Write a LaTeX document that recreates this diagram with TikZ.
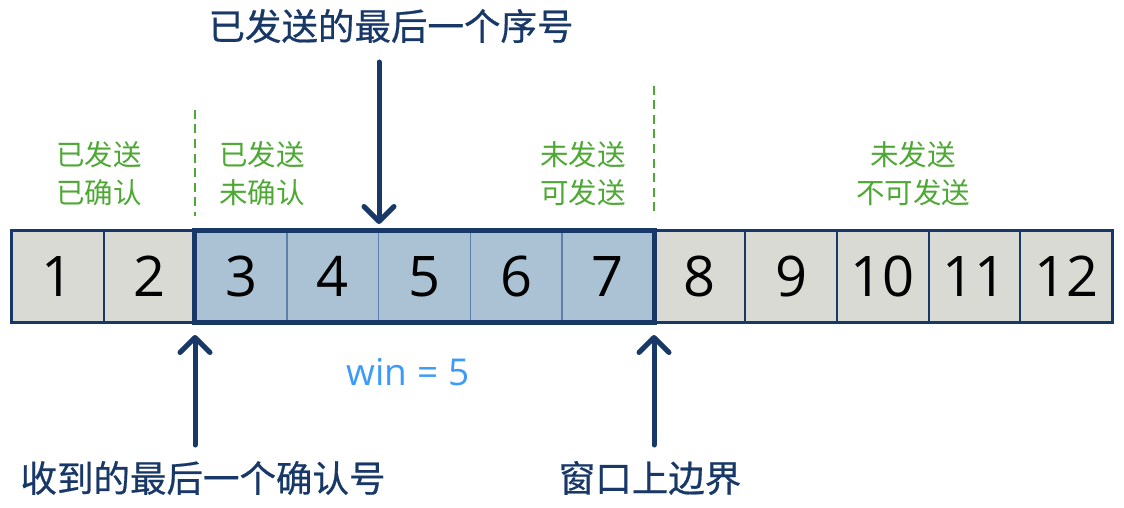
\documentclass[tikz,border=0pt]{standalone}
\usepackage{fontspec}
\setmainfont{Open Sans}
\newfontfamily\cjk{Noto Sans CJK SC}
\newfontfamily\cjkb[FakeBold=0.6]{Noto Sans CJK SC}
\usetikzlibrary{arrows.meta}
\definecolor{navy}{RGB}{24,56,104}
\definecolor{cellgrey}{RGB}{218,218,212}
\definecolor{winfill}{RGB}{170,194,212}
\definecolor{winline}{RGB}{92,128,170}
\definecolor{lblgreen}{RGB}{78,168,52}
\definecolor{winblue}{RGB}{60,155,250}
\tikzset{
  cellbox/.style={draw=navy, line width=2pt, fill=cellgrey, minimum width=91.67pt, minimum height=91pt, inner sep=0pt, font=\fontsize{56}{60}\selectfont},
  winbox/.style={cellbox, fill=winfill, draw=winline, line width=1.5pt},
  greenlbl/.style={text=lblgreen, align=center, font=\cjk\fontsize{28.5}{38}\selectfont},
  navylbl/.style={text=navy, font=\cjkb\fontsize{36.5}{40}\selectfont},
  bigarrow/.style={draw=navy, line width=5pt, line cap=round, -{Straight Barb[length=15pt,width=30pt,line width=5pt, round]}},
  greendash/.style={draw=lblgreen, line width=2.6pt, dash pattern=on 9pt off 5.5pt}
}
\begin{document}
\begin{tikzpicture}[x=1pt,y=-1pt]
\useasboundingbox (0,0) rectangle (1124,508);
\foreach \i in {1,2,8,9,10,11,12}{
  \node[cellbox] (c\i) at ({12+91.67*(\i-0.5)},276.5) {\i};
}
\foreach \i in {3,...,7}{
  \node[winbox] (c\i) at ({12+91.67*(\i-0.5)},276.5) {\i};
}
\draw[navy, line width=2.5pt] (c1.north west) rectangle (c12.south east);
\draw[navy, line width=5pt] (c3.north west) rectangle (c7.south east);

% green labels
\node[greenlbl] (l1) at (99,174) {已发送\\已确认};
\node[greenlbl] (l2) at (262,174) {已发送\\未确认};
\node[greenlbl] (l3) at (583,174) {未发送\\可发送};
\node[greenlbl] (l4) at (913,174) {未发送\\不可发送};

% dashed separators
\coordinate (d1t) at (195,110);
\coordinate (d1b) at (195,216);
\coordinate (d2t) at (654,86);
\coordinate (d2b) at (654,216);
\draw[greendash] (d1t) -- (d1b);
\draw[greendash] (d2t) -- (d2b);

% top label and arrow
\node[navylbl] (top) at (391,26) {已发送的最后一个序号};
\coordinate (ta) at (379,62);
\coordinate (tb) at (379,224);
\draw[bigarrow] (ta) -- (tb);

% bottom arrows
\coordinate (b1s) at (195,445);
\coordinate (b1e) at (195,335);
\coordinate (b2s) at (654,445);
\coordinate (b2e) at (654,335);
\draw[bigarrow] (b1s) -- (b1e);
\draw[bigarrow] (b2s) -- (b2e);

\node[navylbl] (ack) at (203,478) {收到的最后一个确认号};
\node[navylbl] (ub) at (650,478) {窗口上边界};

\node[text=winblue, font=\fontsize{37}{40}\selectfont] (win) at (408,372) {win = 5};
\end{tikzpicture}
\end{document}
